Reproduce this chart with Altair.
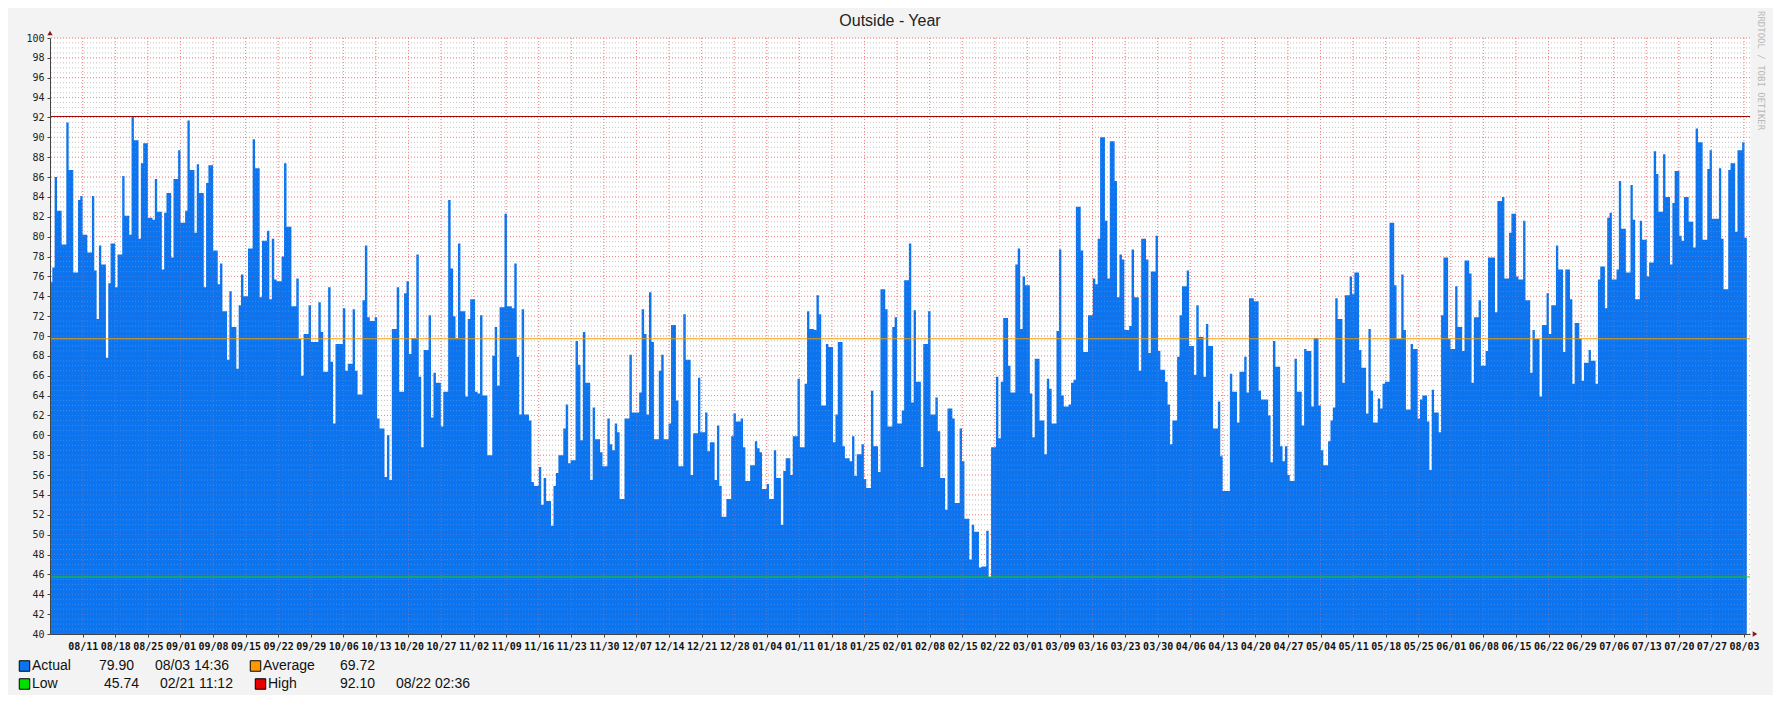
import json
import pandas as pd
import altair as alt

# ---------------- data ----------------
seg_a = [75.4, 76.9, 86.0, 82.6, 82.6, 79.2, 79.2, 91.5, 86.7, 86.7, 76.4, 76.4, 83.7, 84.1, 80.2, 80.2,
         78.4, 78.4, 84.1, 76.6, 71.7, 79.1, 77.2, 77.2, 67.8, 75.3, 79.3, 79.3, 74.9, 78.2, 78.2, 86.1,
         82.1, 82.1, 80.2, 92.1, 89.7, 89.7, 79.8, 87.4, 89.4, 89.4, 81.9, 81.9, 81.7, 85.8, 82.5, 82.5,
         76.7, 82.4, 84.4, 84.4, 77.9, 85.8, 85.8, 88.7, 81.4, 81.4, 82.6, 91.7, 86.7, 86.7, 80.4, 87.3,
         84.4, 84.4, 74.9, 85.4, 87.2, 87.2, 78.6, 78.6, 75.2, 77.3, 72.5, 72.5, 67.6, 74.5, 70.9, 70.9,
         66.7, 73.1, 76.2, 74.0, 74.0, 78.8, 78.8, 89.8, 86.9, 86.9, 73.9]
seg_b = [79.6, 79.6, 80.6, 73.7, 79.8, 75.7, 75.5, 75.5, 78.0, 87.4, 81.0, 81.0, 73.0, 73.0, 75.8, 69.7,
         66.0, 70.2, 70.2, 73.1, 69.4, 69.4, 69.4, 73.4, 70.4, 66.4, 66.4, 74.9, 67.4, 61.2, 69.2, 69.2,
         69.2, 72.8, 66.5, 67.2, 67.2, 72.7, 66.5, 64.1, 64.1, 73.6, 79.1, 71.9, 71.5, 71.5, 71.9, 61.7,
         60.7, 60.7, 55.8, 60.0, 55.5, 70.7, 70.7, 74.9, 64.4, 64.4, 74.3, 75.5, 68.2, 69.8, 69.8, 78.2,
         65.9, 58.8, 68.6, 68.6, 72.1, 61.8, 66.3, 65.3, 65.3, 60.9, 64.4, 64.4, 83.7, 76.8, 72.0, 69.8,
         79.3, 72.5, 72.5, 63.9, 71.7, 73.7, 73.7, 64.4, 64.2]
seg_c = [72.1, 64.0, 64.0, 58.0, 58.0, 68.0, 70.9, 65.0, 72.9, 72.9, 82.3, 73.0, 73.0, 72.8, 77.3, 67.9,
         62.1, 72.7, 62.1, 62.1, 61.5, 55.3, 54.9, 54.9, 56.8, 53.0, 55.7, 53.4, 53.4, 50.9, 54.9, 56.2,
         58.0, 58.0, 60.7, 63.1, 57.2, 57.5, 57.5, 69.5, 67.1, 59.5, 70.4, 65.3, 65.3, 55.5, 62.8, 59.6,
         59.6, 58.3, 56.9, 56.9, 61.7, 59.1, 58.5, 61.2, 60.3, 53.6, 53.6, 61.7, 61.7, 68.1, 62.3, 62.3,
         62.3, 64.3, 72.7, 70.2, 62.1, 74.4, 69.4, 59.6, 59.6, 66.5, 68.1, 59.6, 59.6, 61.2, 71.1, 71.1,
         63.5, 56.9, 56.9, 72.2, 67.6, 67.6, 56.0, 60.2, 60.2]
seg_d = [65.8, 60.3, 60.3, 62.3, 58.4, 59.3, 59.3, 55.5, 61.0, 54.9, 51.8, 51.8, 53.6, 53.6, 59.9, 62.2,
         61.4, 61.4, 61.7, 58.8, 55.4, 55.4, 57.0, 57.0, 59.4, 58.7, 58.3, 54.6, 54.6, 55.1, 53.6, 53.6,
         58.5, 55.7, 55.7, 51.0, 56.4, 57.7, 57.7, 56.0, 59.9, 59.9, 65.7, 58.8, 58.8, 65.2, 72.5, 70.7,
         70.7, 70.6, 74.1, 72.2, 63.0, 63.0, 69.2, 68.9, 68.9, 59.3, 62.1, 69.4, 69.4, 58.9, 57.7, 57.7,
         57.4, 59.9, 55.9, 58.1, 58.1, 59.1, 55.6, 54.7, 54.7, 64.5, 58.9, 58.9, 56.3, 74.7, 74.7, 72.7,
         60.9, 60.9, 70.9, 71.9, 61.2, 61.2, 62.5, 75.6, 75.6, 79.3, 63.3, 72.6]
seg_e = [65.4, 65.4, 56.8, 69.2, 69.2, 72.5, 62.1, 62.1, 63.8, 60.4, 55.7, 55.7, 52.5, 62.7, 62.7, 61.7,
         53.2, 53.2, 60.7, 57.4, 51.6, 51.6, 47.5, 51.0, 50.3, 50.3, 46.7, 46.8, 46.8, 50.4, 45.74, 58.8,
         58.8, 65.9, 59.7, 65.4, 71.8, 71.8, 67.0, 64.3, 64.3, 77.2, 78.8, 70.7, 76.0, 75.1, 75.1, 64.2,
         59.8, 67.7, 67.7, 61.5, 61.5, 58.1, 65.7, 64.7, 61.2, 61.2, 70.5, 78.7, 64.0, 62.9, 62.9, 63.1,
         65.3, 65.6, 83.0, 83.0, 78.6, 68.4, 68.4, 72.1, 72.1, 75.8, 75.2, 79.8, 90.0, 90.0, 81.6, 75.8,
         89.6, 89.6, 85.6, 73.9, 78.2, 77.7, 70.6, 70.6, 71.0, 78.7]
seg_f = [73.9, 73.9, 66.5, 79.8, 79.8, 77.7, 68.3, 76.5, 76.5, 80.1, 68.5, 66.6, 66.6, 65.4, 63.1, 59.1,
         61.5, 61.5, 67.9, 72.1, 75.0, 75.0, 76.6, 69.0, 69.0, 66.1, 73.1, 69.9, 69.9, 65.9, 71.2, 69.0,
         69.0, 60.7, 60.7, 63.4, 57.9, 54.4, 54.4, 54.4, 66.2, 64.4, 64.4, 61.3, 66.4, 66.4, 67.9, 64.3,
         73.8, 73.8, 73.5, 73.5, 64.5, 63.6, 63.6, 63.6, 62.0, 57.3, 69.5, 66.9, 66.9, 58.9, 57.4, 58.9,
         56.0, 55.4, 55.4, 67.7, 64.4, 64.4, 61.0, 68.7, 68.5, 68.5, 62.9, 69.8, 69.8, 63.0, 58.5, 57.0,
         57.0, 59.4, 61.5, 62.8, 73.8, 71.7, 71.7, 65.3, 74.1, 74.1, 76.0]
seg_g = [74.2, 76.4, 76.4, 68.6, 66.8, 66.8, 62.2, 70.7, 64.5, 61.3, 61.3, 63.7, 62.7, 65.2, 65.4, 65.4,
         81.4, 81.4, 75.1, 69.7, 69.7, 76.2, 70.6, 62.6, 62.6, 69.2, 68.7, 68.7, 61.7, 63.6, 64.0, 64.0,
         61.4, 56.5, 64.6, 62.3, 62.3, 60.3, 72.1, 77.9, 77.9, 69.7, 68.7, 68.7, 75.0, 70.9, 70.9, 68.5,
         77.6, 77.6, 76.3, 65.3, 71.9, 71.9, 73.6, 67.0, 67.0, 68.5, 77.9, 77.9, 77.9, 72.4, 83.6, 83.6,
         84.0, 75.8, 75.8, 80.4, 82.3, 82.3, 76.0, 75.7, 75.7, 81.6, 73.6, 73.6, 66.3, 70.6, 69.7, 69.7,
         63.9, 71.1, 71.1, 74.3, 70.2, 73.1, 73.1, 79.1, 76.7, 76.7, 68.4, 76.7, 76.7]
seg_h = [73.7, 65.2, 71.3, 71.3, 69.7, 65.5, 67.3, 67.3, 68.6, 67.5, 67.5, 65.2, 75.7, 77.0, 77.0, 72.8,
         81.9, 82.4, 75.7, 75.7, 76.7, 85.6, 80.8, 80.8, 76.4, 76.4, 85.2, 81.7, 73.7, 73.7, 81.6, 79.7,
         79.7, 76.0, 77.4, 77.4, 88.6, 86.3, 82.5, 82.5, 88.3, 84.0, 84.0, 77.2, 83.4, 86.6, 86.6, 80.1,
         79.6, 84.0, 84.0, 81.5, 81.5, 78.9, 90.9, 89.5, 89.5, 79.7, 79.7, 86.8, 88.7, 81.8, 81.8, 81.8,
         86.9, 79.8, 74.7, 74.7, 86.7, 87.4, 87.4, 80.5, 88.7, 88.7, 89.5, 79.9]

# time span covered by each segment of readings (local time)
seg_bounds = ["2014-08-03 23:20", "2014-09-18 12:43", "2014-11-04 09:05", "2014-12-21 05:17",
              "2015-02-06 01:41", "2015-03-24 22:05", "2015-05-10 18:29", "2015-06-26 14:38",
              "2015-08-03 14:36"]
domain_start = "2014-08-03 23:20"
domain_end = "2015-08-04 07:00"

tick_labels = ["08/11", "08/18", "08/25", "09/01", "09/08", "09/15", "09/22", "09/29", "10/06",
               "10/13", "10/20", "10/27", "11/02", "11/09", "11/16", "11/23", "11/30", "12/07",
               "12/14", "12/21", "12/28", "01/04", "01/11", "01/18", "01/25", "02/01", "02/08",
               "02/15", "02/22", "03/01", "03/09", "03/16", "03/23", "03/30", "04/06", "04/13",
               "04/20", "04/27", "05/04", "05/11", "05/18", "05/25", "06/01", "06/08", "06/15",
               "06/22", "06/29", "07/06", "07/13", "07/20", "07/27", "08/03"]
first_tick = "2014-08-11 00:00"

legend_names = ["Actual", "Average", "Low", "High"]
legend_values = [79.90, 69.72, 45.74, 92.10]
legend_times = ["08/03 14:36", "", "02/21 11:12", "08/22 02:36"]

title_text = "Outside - Year"
watermark = "RRDTOOL / TOBI OETIKER"

# ---------------- build table ----------------
def ms(s):
    return int(pd.Timestamp(s, tz="UTC").value // 10**6)

segments = [seg_a, seg_b, seg_c, seg_d, seg_e, seg_f, seg_g, seg_h]
rows = []
for vals, a, b in zip(segments, seg_bounds[:-1], seg_bounds[1:]):
    t0, t1 = ms(a), ms(b)
    step = (t1 - t0) / len(vals)
    for i, v in enumerate(vals):
        rows.append({"t": int(t0 + i * step), "v": v})
rows.append({"t": ms(seg_bounds[-1]), "v": segments[-1][-1]})
df = pd.DataFrame(rows)

WEEK = 7 * 86400000
t_first = ms(first_tick)
tick_vals = [t_first + i * WEEK for i in range(len(tick_labels))]
label_expr = "%s[round((datum.value - %d) / %d)]" % (json.dumps(tick_labels), t_first, WEEK)

y_major = list(range(40, 101, 2))
y_minor = [40 + k * 0.5 for k in range(121) if k % 4 != 0]

W, H = 1700, 596
xscale = alt.Scale(type="utc", domain=[ms(domain_start), ms(domain_end)])
yscale = alt.Scale(domain=[40, 100], zero=False, nice=False)

BLUE = "#0b74ee"
ORANGE = "#ff9900"
GREEN = "#00e000"
RED = "#e60000"
PINK = "#f07878"
GRAY = "#b8b8b8"

y_axis = alt.Axis(values=y_major, format="d", title="", grid=False,
                  labelFont="DejaVu Sans Mono", labelFontSize=10, labelColor="#222",
                  labelPadding=3, tickSize=3, tickColor="#444", domainColor="#444",
                  zindex=1)
x_axis = alt.Axis(values=tick_vals, labelExpr=label_expr, title="", grid=False,
                  labelFont="DejaVu Sans Mono", labelFontSize=10, labelColor="#111",
                  labelFontWeight="bold",
                  labelPadding=4, labelOverlap=False, labelFlush=False,
                  tickSize=3, tickColor="#444", domainColor="#444", zindex=1)

area = alt.Chart(df).mark_area(interpolate="step-after", color=BLUE, opacity=1, clip=True).encode(
    x=alt.X("t:T", scale=xscale, axis=x_axis),
    y=alt.Y("v:Q", scale=yscale, axis=y_axis),
    y2=alt.datum(40),
)

def hgrid(vals, color, opacity):
    return alt.Chart(pd.DataFrame({"v": vals})).mark_rule(
        color=color, strokeDash=[1, 2], strokeWidth=1, opacity=opacity
    ).encode(y=alt.Y("v:Q", scale=yscale, axis=y_axis))

def vgrid(opacity):
    return alt.Chart(pd.DataFrame({"t": tick_vals})).mark_rule(
        color=PINK, strokeDash=[1, 2], strokeWidth=1, opacity=opacity
    ).encode(x=alt.X("t:T", scale=xscale, axis=x_axis))

grid_below = [hgrid(y_minor, GRAY, 0.8), hgrid(y_major, PINK, 0.85), vgrid(0.85)]
grid_above = [hgrid(y_minor, "#d8d8d8", 0.25), hgrid(y_major, PINK, 0.35), vgrid(0.35)]

def hrule(val, color):
    return alt.Chart(pd.DataFrame({"v": [val]})).mark_rule(color=color, strokeWidth=1).encode(
        y=alt.Y("v:Q", scale=yscale, axis=y_axis))

avg_rule = hrule(legend_values[1], "#f0a000")
low_rule = hrule(legend_values[2], "#11d411")
high_rule = hrule(legend_values[3], "#a00000")

arrow_up = alt.Chart(pd.DataFrame({"a": [0]})).mark_point(
    shape="triangle-up", filled=True, size=28, color="#8b1a1a", opacity=1
).encode(x=alt.value(0), y=alt.value(-5))
arrow_right = alt.Chart(pd.DataFrame({"a": [0]})).mark_point(
    shape="triangle-right", filled=True, size=28, color="#8b1a1a", opacity=1
).encode(x=alt.value(W + 5), y=alt.value(H))

def txt(s, x, y, size=14, font="Liberation Sans", color="#111", align="left", angle=0):
    return alt.Chart(pd.DataFrame({"s": [s]})).mark_text(
        align=align, baseline="middle", font=font, fontSize=size, color=color, angle=angle
    ).encode(x=alt.value(x), y=alt.value(y), text="s:N")

def sq(color, x, y):
    return alt.Chart(pd.DataFrame({"a": [0]})).mark_square(
        fill=color, stroke="black", strokeWidth=1, size=110, opacity=1, filled=True
    ).encode(x=alt.value(x), y=alt.value(y))

R1, R2 = 628, 646
legend_layers = [
    sq(BLUE, -25.5, R1), txt(legend_names[0], -18, R1),
    txt("%.2f" % legend_values[0], 49, R1), txt(legend_times[0], 105, R1),
    sq(ORANGE, 205.5, R1), txt(legend_names[1], 213, R1),
    txt("%.2f" % legend_values[1], 290, R1),
    sq(GREEN, -25.5, R2), txt(legend_names[2], -18, R2),
    txt("%.2f" % legend_values[2], 54, R2), txt(legend_times[2], 110, R2),
    sq(RED, 210.5, R2), txt(legend_names[3], 218, R2),
    txt("%.2f" % legend_values[3], 290, R2), txt(legend_times[3], 346, R2),
]

title = txt(title_text, 840, -17, size=16, color="#222", align="center")
wm = txt(watermark, 1711, -27, size=9, font="DejaVu Sans Mono", color="#b8b8b8", angle=90)

chart = alt.layer(
    *grid_below, area, *grid_above, avg_rule, low_rule, high_rule, arrow_up, arrow_right,
    title, wm, *legend_layers
).properties(
    width=W, height=H, background="#f3f3f3",
    padding={"left": 42, "top": 30, "right": 23, "bottom": 61},
    autosize=alt.AutoSizeParams(type="none"),
).configure_view(fill="white", stroke="transparent")

chart.save("out.html", embed_options={"renderer": "svg", "actions": False})
